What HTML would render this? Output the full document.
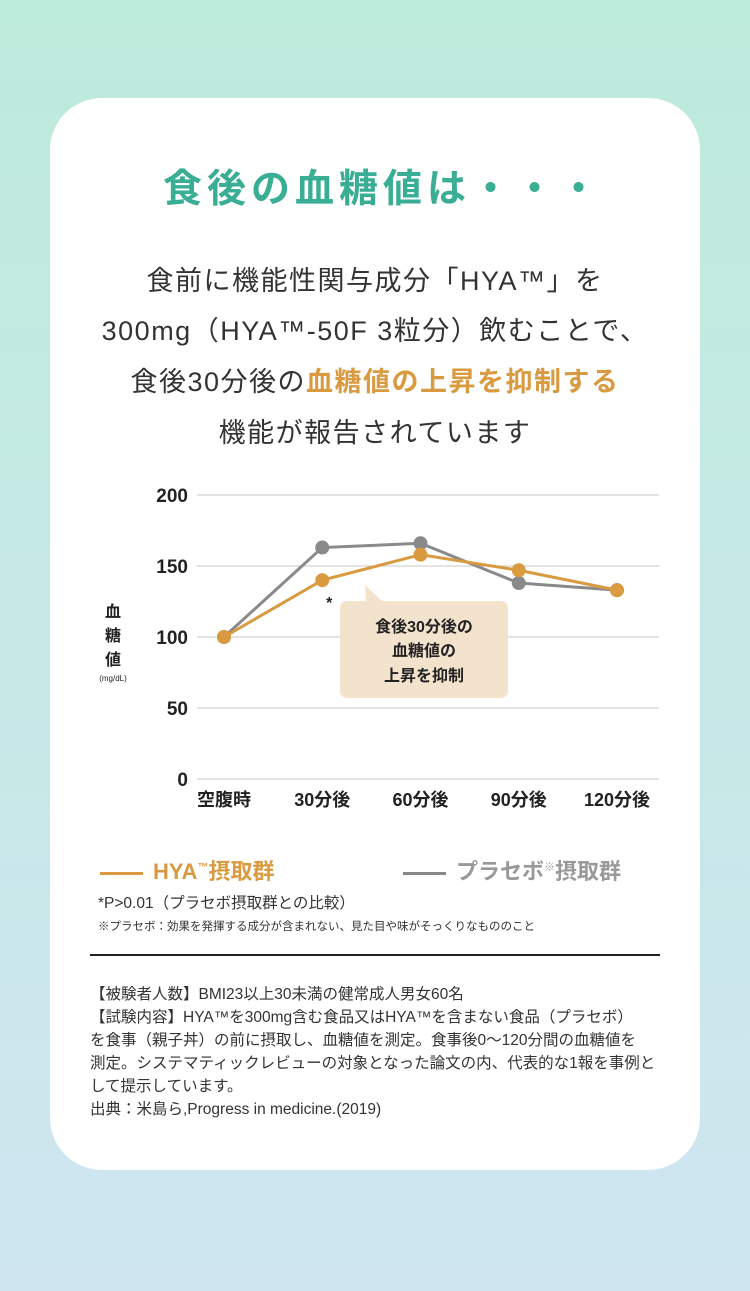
<!DOCTYPE html>
<html><head><meta charset="utf-8">
<style>
body{margin:0;width:750px;height:1291px;overflow:hidden;background:linear-gradient(180deg,#bdebdc 0%,#c6e8e6 50%,#cfe6f1 100%);font-family:"Liberation Sans","Noto Sans CJK JP",sans-serif;color:#333;position:relative}
.card{position:absolute;left:50px;top:98px;width:650px;height:1072px;background:#fff;border-radius:52px}
.t{position:absolute;left:0;width:750px;text-align:center;white-space:nowrap}
.o{color:#d99a40;font-weight:bold}
.abs{position:absolute;white-space:nowrap}
</style></head><body>
<div class="card"></div>
<div class="t" style="top:158px;font-size:39px;font-weight:bold;color:#3aae94;letter-spacing:5px;left:8px">食後の血糖値は・・・</div>
<div>
<div class="t" style="top:259px;font-size:27px;letter-spacing:1.5px">食前に機能性関与成分「HYA™」を</div>
<div class="t" style="top:309px;font-size:27px;letter-spacing:1.5px">300mg（HYA™-50F 3粒分）飲むことで、</div>
<div class="t" style="top:360px;font-size:27px;letter-spacing:1.5px">食後30分後の<span class="o">血糖値の上昇を抑制する</span></div>
<div class="t" style="top:411px;font-size:27px;letter-spacing:1.5px">機能が報告されています</div>
</div>
<svg id="chart" style="position:absolute;left:0;top:0" width="750" height="840"></svg>
<div class="abs" style="left:100px;top:854px;font-size:22px;font-weight:bold;color:#d99a40"><span style="display:inline-block;width:43px;height:3px;background:#d99a40;vertical-align:middle;margin-right:10px"></span>HYA<sup style="font-size:11px">™</sup>摂取群</div>
<div class="abs" style="left:403px;top:854px;font-size:22px;font-weight:bold;color:#999"><span style="display:inline-block;width:43px;height:3px;background:#888;vertical-align:middle;margin-right:10px"></span>プラセボ<sup style="font-size:11px">※</sup>摂取群</div>
<div class="abs" style="left:98px;top:891px;font-size:15.5px">*P&gt;0.01（プラセボ摂取群との比較）</div>
<div class="abs" style="left:98px;top:918px;font-size:11.5px">※プラセボ：効果を発揮する成分が含まれない、見た目や味がそっくりなもののこと</div>
<div class="abs" style="left:90px;top:954px;width:570px;height:2px;background:#222"></div>
<div class="abs" style="left:90px;top:983px;font-size:15.5px;line-height:23px;white-space:nowrap;width:590px">【被験者人数】BMI23以上30未満の健常成人男女60名<br>【試験内容】HYA™を300mg含む食品又はHYA™を含まない食品（プラセボ）<br>を食事（親子丼）の前に摂取し、血糖値を測定。食事後0～120分間の血糖値を<br>測定。システマティックレビューの対象となった論文の内、代表的な1報を事例と<br>して提示しています。<br>出典：米島ら,Progress in medicine.(2019)</div>
<script>
const categories=["空腹時","30分後","60分後","90分後","120分後"];
const hyaValues=[100,140,158,147,133];
const placeboValues=[100,163,166,138,133];
const yTicks=[0,50,100,150,200];
const NS="http://www.w3.org/2000/svg";
const svg=document.getElementById('chart');
const X0=224,DX=98.25,Y0=779,YS=284/200;
const xs=i=>X0+i*DX, ys=v=>Y0-v*YS;
function mk(t,a){const e=document.createElementNS(NS,t);for(const k in a)e.setAttribute(k,a[k]);svg.appendChild(e);return e;}
yTicks.forEach(v=>{
 const l=mk('line',{x1:197,x2:659,y1:ys(v),y2:ys(v),stroke:'#c8c8c8','stroke-width':1});
 
 
 const t=mk('text',{x:188,y:ys(v)+7,'text-anchor':'end','font-size':19,'font-weight':'bold',fill:'#222'});
 t.textContent=v;
 
 
});
categories.forEach((c,i)=>{
 const t=mk('text',{x:xs(i),y:806,'text-anchor':'middle','font-size':18,'font-weight':'bold',fill:'#222'});
 t.textContent=c;
 
 
});
[["血",617],["糖",641],["値",665]].forEach(([c,y])=>{const t=mk('text',{x:113,y:y,'text-anchor':'middle','font-size':16,'font-weight':'bold',fill:'#222'});t.textContent=c;});
const u=mk('text',{x:113,y:681,'text-anchor':'middle','font-size':8,fill:'#222'});u.textContent='(mg/dL)';


function series(vals,color,name){
 const p=mk('polyline',{points:vals.map((v,i)=>xs(i)+','+ys(v)).join(' '),fill:'none',stroke:color,'stroke-width':3});
 
 
 vals.forEach((v,i)=>{const c=mk('circle',{cx:xs(i),cy:ys(v),r:7,fill:color});
 
 });
}
series(placeboValues,'#8a8a8a','placebo');
series(hyaValues,'#d99a40','hya');
const st=mk('text',{x:xs(1)+7,y:ys(hyaValues[1])+28,'text-anchor':'middle','font-size':16,'font-weight':'bold',fill:'#222'});st.textContent='*';


const b=mk('path',{d:'M348 601 H366 L365 585 L382 601 H500 Q508 601 508 609 V690 Q508 698 500 698 H348 Q340 698 340 690 V609 Q340 601 348 601 Z',fill:'#f3e3cc'});


[["食後30分後の",632],["血糖値の",656],["上昇を抑制",681]].forEach(([s,y])=>{const t=mk('text',{x:424,y:y,'text-anchor':'middle','font-size':16,'font-weight':'bold',fill:'#222'});t.textContent=s;});
</script>
</body></html>
